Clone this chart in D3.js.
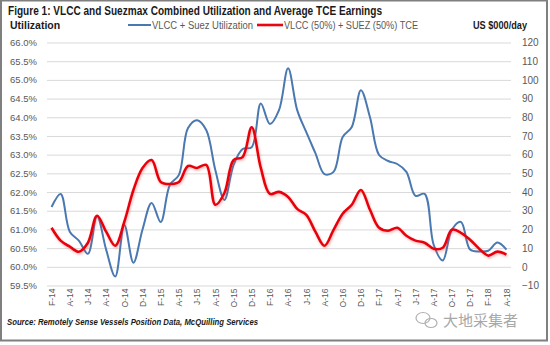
<!DOCTYPE html>
<html>
<head>
<meta charset="utf-8">
<script src="https://cdn.jsdelivr.net/npm/d3@7"></script>
<style>
  html, body { margin: 0; padding: 0; background: #fff; }
  svg { display: block; }
</style>
</head>
<body>
<div id="chart"></div>
<script>
// Monthly series, Feb 2014 - Apr 2018
const monthLabels = [
  "F-14","M-14","A-14","M-14","J-14","J-14","A-14","S-14","O-14","N-14","D-14",
  "J-15","F-15","M-15","A-15","M-15","J-15","J-15","A-15","S-15","O-15","N-15","D-15",
  "J-16","F-16","M-16","A-16","M-16","J-16","J-16","A-16","S-16","O-16","N-16","D-16",
  "J-17","F-17","M-17","A-17","M-17","J-17","J-17","A-17","S-17","O-17","N-17","D-17",
  "J-18","F-18","M-18","A-18"
];

// VLCC + Suez utilization (%)
const utilization = [
  61.60, 61.95, 60.94, 60.70, 60.35, 61.36, 60.46, 59.74, 61.12, 60.11, 61.00,
  61.71, 61.20, 62.19, 62.46, 63.71, 63.92, 63.66, 62.59, 61.79, 62.72, 63.15, 63.20,
  64.37, 63.82, 64.19, 65.31, 64.19, 63.60, 63.04, 62.48, 62.54, 63.47, 63.74, 64.72,
  64.00, 62.99, 62.83, 62.75, 62.54, 61.90, 61.95, 60.59, 60.17, 60.99, 61.20, 60.46,
  60.41, 60.43, 60.65, 60.46
];

// VLCC (50%) + Suez (50%) TCE, US $000/day
const tce = [
  20.9, 14.0, 10.8, 8.1, 12.9, 27.3, 18.8, 11.3, 24.1, 41.1, 52.9,
  57.1, 45.4, 44.3, 45.4, 53.9, 52.9, 54.5, 33.2, 39.5, 57.1, 58.7, 74.7,
  52.9, 39.0, 40.1, 37.4, 31.0, 27.8, 18.8, 11.3, 19.8, 28.4, 33.2, 41.1,
  30.5, 20.9, 19.3, 20.9, 16.6, 14.0, 12.9, 9.7, 10.2, 19.8, 18.2, 14.5,
  9.7, 6.0, 8.1, 6.5
];

const leftTicks = [59.5, 60.0, 60.5, 61.0, 61.5, 62.0, 62.5, 63.0, 63.5, 64.0, 64.5, 65.0, 65.5, 66.0];
const rightTicks = [-10, 0, 10, 20, 30, 40, 50, 60, 70, 80, 90, 100, 110, 120];

const width = 550;
const height = 345;
const plot = { left: 47, right: 511, top: 42.5, bottom: 285.5 };
const blue = "#4a78b0";
const red = "#e8060f";

const svg = d3.select("#chart")
  .append("svg")
  .attr("width", width)
  .attr("height", height);

const defs = svg.append("defs");
const glow = defs.append("filter")
  .attr("id", "redShadow")
  .attr("x", "-5%").attr("y", "-20%")
  .attr("width", "110%").attr("height", "140%");
glow.append("feDropShadow")
  .attr("dx", 0.8).attr("dy", 1.5)
  .attr("stdDeviation", 1.1)
  .attr("flood-color", "#f03030")
  .attr("flood-opacity", 0.35);

// outer frame
svg.append("rect")
  .attr("x", 1).attr("y", 0.5)
  .attr("width", 546).attr("height", 340)
  .attr("fill", "#fff")
  .attr("stroke", "#7f7f7f")
  .attr("stroke-width", 2);

const x = d3.scalePoint()
  .domain(d3.range(monthLabels.length))
  .range([plot.left, plot.right])
  .padding(0.5);

const yLeft = d3.scaleLinear()
  .domain([59.5, 66])
  .range([plot.bottom, plot.top]);

const yRight = d3.scaleLinear()
  .domain([-10, 120])
  .range([plot.bottom, plot.top]);

// gridlines + left labels
const leftAxis = svg.append("g")
  .attr("transform", `translate(${plot.left},0)`)
  .call(d3.axisLeft(yLeft)
    .tickValues(leftTicks)
    .tickFormat(d => d.toFixed(1) + "%")
    .tickSize(-(plot.right - plot.left))
    .tickPadding(10));
leftAxis.select(".domain").remove();
leftAxis.selectAll(".tick line").attr("stroke", "#d9d9d9").attr("stroke-width", 1);
leftAxis.selectAll(".tick text")
  .attr("fill", "#595959")
  .style("font", "9.5px 'Liberation Sans', Arial, sans-serif");

const rightAxis = svg.append("g")
  .attr("transform", `translate(${plot.right},0)`)
  .call(d3.axisRight(yRight)
    .tickValues(rightTicks)
    .tickSize(0)
    .tickPadding(11));
rightAxis.select(".domain").remove();
rightAxis.selectAll(".tick text")
  .attr("fill", "#595959")
  .style("font", "10px 'Liberation Sans', Arial, sans-serif");

// month labels, every second month
const xAxis = svg.append("g")
  .attr("transform", `translate(0,${plot.bottom})`)
  .call(d3.axisBottom(x)
    .tickValues(d3.range(0, monthLabels.length, 2))
    .tickFormat(i => monthLabels[i])
    .tickSize(0));
xAxis.select(".domain").remove();
xAxis.selectAll(".tick text")
  .attr("transform", "rotate(-90)")
  .attr("text-anchor", "end")
  .attr("x", -3)
  .attr("y", 0)
  .attr("dy", "0.32em")
  .attr("fill", "#595959")
  .style("font", "8.5px 'Liberation Sans', Arial, sans-serif");

const utilLine = d3.line()
  .x((d, i) => x(i))
  .y(d => yLeft(d))
  .curve(d3.curveCatmullRom.alpha(0.5));

const tceLine = d3.line()
  .x((d, i) => x(i))
  .y(d => yRight(d))
  .curve(d3.curveCatmullRom.alpha(0.5));

svg.append("path")
  .datum(utilization)
  .attr("d", utilLine)
  .attr("fill", "none")
  .attr("stroke", blue)
  .attr("stroke-width", 2);

svg.append("path")
  .datum(tce)
  .attr("d", tceLine)
  .attr("fill", "none")
  .attr("stroke", red)
  .attr("stroke-width", 2.6)
  .attr("filter", "url(#redShadow)");

// title and axis captions
svg.append("text")
  .attr("x", 8).attr("y", 15)
  .attr("textLength", 374)
  .attr("lengthAdjust", "spacingAndGlyphs")
  .attr("fill", "#1a1a1a")
  .style("font", "bold 12px 'Liberation Sans Narrow', 'Liberation Sans', sans-serif")
  .text("Figure 1: VLCC and Suezmax Combined Utilization and Average TCE Earnings");

svg.append("text")
  .attr("x", 10).attr("y", 29)
  .attr("fill", "#1a1a1a")
  .style("font", "bold 10.5px 'Liberation Sans Narrow', 'Liberation Sans', sans-serif")
  .text("Utilization");

svg.append("text")
  .attr("x", 473).attr("y", 29)
  .attr("textLength", 54)
  .attr("lengthAdjust", "spacingAndGlyphs")
  .attr("fill", "#1a1a1a")
  .style("font", "bold 10.5px 'Liberation Sans Narrow', 'Liberation Sans', sans-serif")
  .text("US $000/day");

// legend
const legend = svg.append("g").style("font", "10px 'Liberation Sans', Arial, sans-serif");
legend.append("line")
  .attr("x1", 128).attr("x2", 151).attr("y1", 25).attr("y2", 25)
  .attr("stroke", blue).attr("stroke-width", 2);
legend.append("text")
  .attr("x", 152).attr("y", 29)
  .attr("textLength", 101)
  .attr("lengthAdjust", "spacingAndGlyphs")
  .attr("fill", "#595959")
  .text("VLCC + Suez Utilization");
legend.append("line")
  .attr("x1", 257).attr("x2", 283).attr("y1", 25).attr("y2", 25)
  .attr("stroke", red).attr("stroke-width", 2.6);
legend.append("text")
  .attr("x", 284).attr("y", 29)
  .attr("textLength", 134)
  .attr("lengthAdjust", "spacingAndGlyphs")
  .attr("fill", "#595959")
  .text("VLCC (50%) + SUEZ (50%) TCE");

// source note
svg.append("text")
  .attr("x", 7).attr("y", 325)
  .attr("textLength", 251)
  .attr("lengthAdjust", "spacingAndGlyphs")
  .attr("fill", "#1a1a1a")
  .style("font", "italic bold 9px 'Liberation Sans Narrow', 'Liberation Sans', sans-serif")
  .text("Source: Remotely Sense Vessels Position Data, McQuilling Services");

// watermark
const wm = svg.append("g").attr("fill", "none").attr("stroke", "#b0b0b0").attr("stroke-width", 1.2);
wm.append("ellipse").attr("cx", 423).attr("cy", 318).attr("rx", 7).attr("ry", 5.5);
wm.append("ellipse").attr("cx", 431).attr("cy", 323).attr("rx", 6).attr("ry", 4.5);
svg.append("text")
  .attr("x", 443).attr("y", 326)
  .attr("fill", "#a8a8a8")
  .style("font", "15px 'Noto Sans CJK SC', sans-serif")
  .text("大地采集者");
</script>
</body>
</html>
